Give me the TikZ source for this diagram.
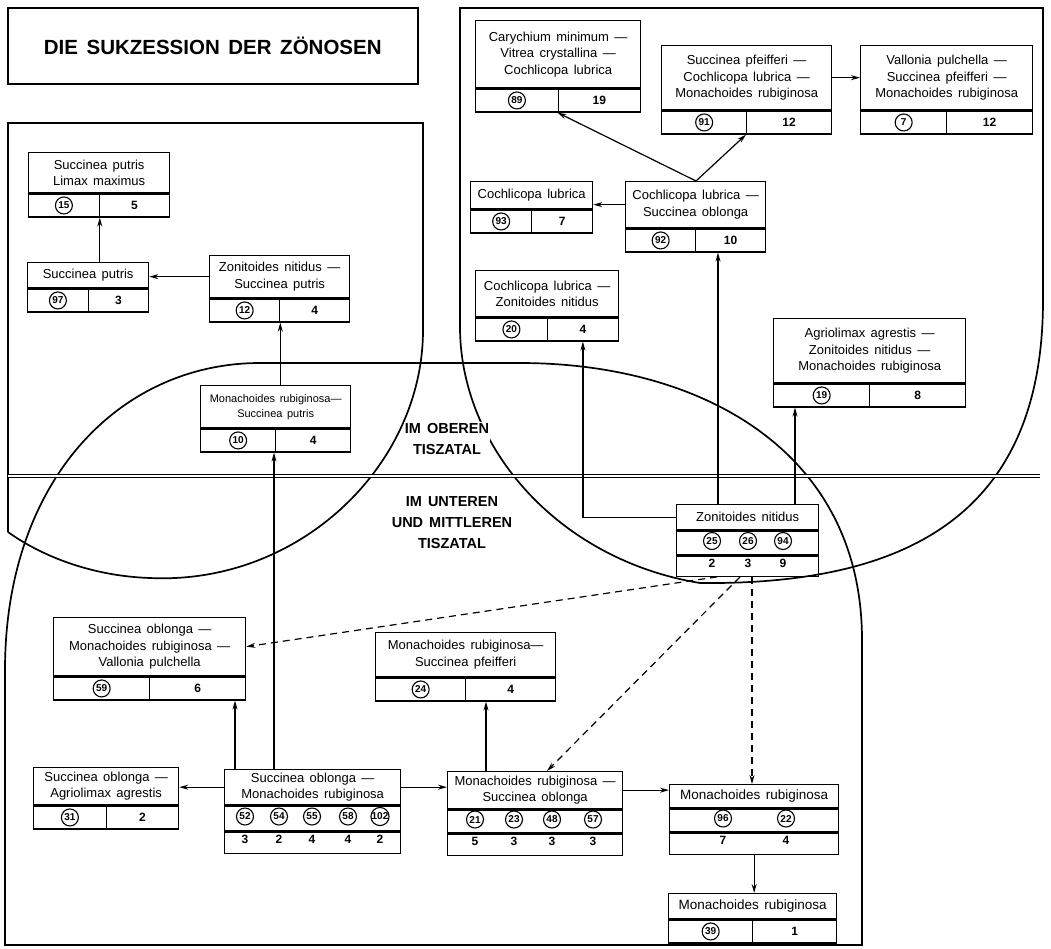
\documentclass[tikz,border=0pt]{standalone}
\usepackage{fontspec}
\setmainfont{Liberation Sans}[WordSpace=1.5]
\usetikzlibrary{arrows.meta,positioning}

% Kasten: [Optionen]{Name}{x}{y}{Breite}{Kopfhoehe}{Arten}{Nr.}{Zahl}
\newcommand{\kasten}[9][]{%
  \node[kopf,#1,minimum width=#5pt,minimum height=#6pt] (#2) at (#3,#4) {#7};
  \node[zelle,minimum width=#5pt/2] (#2-a) at (#2.south west) {};
  \node[zelle,anchor=north east,minimum width=#5pt/2] (#2-b) at (#2.south east) {#9};
  \node[kreis] (#2-k) at (#2-a) {#8};
}

\begin{document}
\begin{tikzpicture}[x=1pt, y=-1pt,
  rahmen/.style={line width=1.7pt},
  kopf/.style={draw, line width=1.3pt, anchor=north west, align=center, inner sep=1pt,
    font=\fontsize{13}{16.5}\selectfont},
  zelle/.style={draw, line width=1.3pt, anchor=north west, minimum height=23pt, inner sep=0pt,
    font=\bfseries\fontsize{12}{12}\selectfont},
  kreis/.style={circle, draw, line width=1.1pt, minimum size=17pt, inner sep=0pt,
    font=\bfseries\fontsize{10}{10}\selectfont},
  zahl/.style={inner sep=0pt, font=\bfseries\fontsize{12}{12}\selectfont},
  gebiet/.style={font=\bfseries\fontsize{14.5}{21}\selectfont, align=center, fill=white, inner sep=1pt},
  pfeil/.style={draw, line width=1.2pt, -{Stealth[length=9pt, width=5pt]}},
  strich/.style={pfeil, dash pattern=on 7pt off 5pt}
]
\useasboundingbox (0,0) rectangle (1051,948);

% Gebiete
\draw[rahmen] (8,532) -- (8,123) -- (423,123) -- (423,330)
  .. controls (423,465) and (300,585) .. (150,578)
  .. controls (90,576) and (40,555) .. (8,532);
\draw[rahmen] (460,330) -- (460,8) -- (1043,8) -- (1043,300)
  .. controls (1043,520) and (900,585) .. (700,583)
  .. controls (560,560) and (462,450) .. (460,330);
\draw[rahmen] (5,945) -- (5,670) .. controls (5,480) and (120,363) .. (260,363) -- (520,363)
  .. controls (700,363) and (862,450) .. (862,640) -- (862,945) -- cycle;
\draw[line width=1pt, double distance=2.5pt] (8,476) -- (1040,476);

\node[draw, line width=1.5pt, anchor=north west, minimum width=410pt, minimum height=76pt,
  font=\bfseries\fontsize{20.5}{24}\selectfont] (titel) at (7,7) {DIE SUKZESSION DER ZÖNOSEN};
\node[gebiet] (oben) at (447,439) {IM OBEREN\\TISZATAL};
\node[gebiet, fill=none] (unten) at (452,523) {IM UNTEREN\\UND MITTLEREN\\TISZATAL};

% Zoenosen
\kasten{lm}{28}{152}{141}{40}{Succinea putris\\Limax maximus}{15}{5}
\kasten{sp}{27}{262}{121}{25}{Succinea putris}{97}{3}
\kasten{zs}{209}{255}{140}{42}{Zonitoides nitidus —\\Succinea putris}{12}{4}
\kasten[font=\fontsize{11}{15}\selectfont]{ms}{200}{385}{150}{42}{Monachoides rubiginosa—\\Succinea putris}{10}{4}
\kasten{cv}{475}{20}{165}{67}{Carychium minimum —\\Vitrea crystallina —\\Cochlicopa lubrica}{89}{19}
\kasten{pf}{661}{45}{170}{64}{Succinea pfeifferi —\\Cochlicopa lubrica —\\Monachoides rubiginosa}{91}{12}
\kasten{vp}{860}{45}{172}{64}{Vallonia pulchella —\\Succinea pfeifferi —\\Monachoides rubiginosa}{7}{12}
\kasten{cl}{470}{181}{122}{27}{Cochlicopa lubrica}{93}{7}
\kasten{co}{625}{181}{140}{46}{Cochlicopa lubrica —\\Succinea oblonga}{92}{10}
\kasten{cz}{475}{270}{143}{46}{Cochlicopa lubrica —\\Zonitoides nitidus}{20}{4}
\kasten{az}{773}{318}{192}{64}{Agriolimax agrestis —\\Zonitoides nitidus —\\Monachoides rubiginosa}{19}{8}
\kasten{sv}{53}{617}{192}{58}{Succinea oblonga —\\Monachoides rubiginosa —\\Vallonia pulchella}{59}{6}
\kasten{mp}{375}{632}{180}{44}{Monachoides rubiginosa—\\Succinea pfeifferi}{24}{4}
\kasten{sa}{33}{767}{145}{37}{Succinea oblonga —\\Agriolimax agrestis}{31}{2}
\kasten[font=\fontsize{13.5}{15}\selectfont]{mr1}{668}{893}{168}{25}{Monachoides rubiginosa}{39}{1}

\node[kopf, minimum width=142pt, minimum height=25pt] (zn) at (676,504) {Zonitoides nitidus};
\node[zelle, minimum width=142pt, minimum height=24pt] (zn-k) at (zn.south west) {};
\node[zelle, minimum width=142pt, minimum height=20pt] (zn-z) at (zn-k.south west) {};
\foreach \x/\k/\n in {712/25/2, 748/26/3, 783/94/9} {
  \node[kreis] (zn-\k) at (\x,541) {\k};
  \node[zahl] (zn-n\k) at (\x,563) {\n};
}

\node[kopf, minimum width=176pt, minimum height=35pt] (som) at (224,769) {Succinea oblonga —\\Monachoides rubiginosa};
\node[zelle, minimum width=176pt, minimum height=25pt] (som-k) at (som.south west) {};
\node[zelle, minimum width=176pt, minimum height=21pt] (som-z) at (som-k.south west) {};
\foreach \x/\k/\n in {245/52/3, 279/54/2, 312/55/4, 348/58/4, 380/102/2} {
  \node[kreis] (som-\k) at (\x,816.5) {\k};
  \node[zahl] (som-n\k) at (\x,839.5) {\n};
}

\node[kopf, minimum width=175pt, minimum height=37pt] (mso) at (447,771) {Monachoides rubiginosa —\\Succinea oblonga};
\node[zelle, minimum width=175pt, minimum height=23pt] (mso-k) at (mso.south west) {};
\node[zelle, minimum width=175pt, minimum height=21pt] (mso-z) at (mso-k.south west) {};
\foreach \x/\k/\n in {475/21/5, 514/23/3, 552/48/3, 593/57/3} {
  \node[kreis] (mso-\k) at (\x,819.5) {\k};
  \node[zahl] (mso-n\k) at (\x,841.5) {\n};
}

\node[kopf, minimum width=169pt, minimum height=23pt, font=\fontsize{13.5}{15}\selectfont] (mr) at (669,784) {Monachoides rubiginosa};
\node[zelle, minimum width=169pt, minimum height=23pt] (mr-k) at (mr.south west) {};
\node[zelle, minimum width=169pt, minimum height=21pt] (mr-z) at (mr-k.south west) {};
\foreach \x/\k/\n in {723/96/7, 786/22/4} {
  \node[kreis] (mr-\k) at (\x,818.5) {\k};
  \node[zahl] (mr-n\k) at (\x,840.5) {\n};
}

% Sukzession
\draw[pfeil] (sp.north -| lm-a.south east) -- (lm-a.south east);
\draw[pfeil] (zs.west) -- (zs.west -| sp-b.east);
\draw[pfeil] (ms.north -| zs-a.south east) -- (zs-a.south east);
\draw[pfeil] ([xshift=50pt]som.north west) -- ([xshift=50pt]som.north west |- ms-a.south);
\draw[pfeil] (som.west) -- (som.west -| sa-b.east);
\draw[pfeil] ([xshift=11pt]som.north west) -- ([xshift=11pt]som.north west |- sv-b.south);
\draw[pfeil] (som.east) -- (som.east -| mso.west);
\draw[pfeil] ([xshift=39pt]mso.north west) -- ([xshift=39pt]mso.north west |- mp-a.south);
\draw[pfeil] (mso.east) -- (mso.east -| mr.west);
\draw[pfeil] (mr-z.south) -- (mr-z.south |- mr1.north);
\draw[strich] ([xshift=41pt]zn-z.south west) -- (sv.east);
\draw[strich] ([xshift=64pt]zn-z.south west) -- ([xshift=100pt]mso.north west);
\draw[strich] ([xshift=76pt]zn-z.south west) -- ([xshift=76pt]zn-z.south west |- mr.north);
\draw[pfeil] (zn.west) -| (cz-b.south);
\draw[pfeil] ([xshift=42pt]zn.north west) -- ([xshift=42pt]zn.north west |- co-b.south);
\draw[pfeil] ([xshift=119pt]zn.north west) -- ([xshift=119pt]zn.north west |- az-a.south);
\draw[pfeil] ([xshift=71pt]co.north west) -- (cv-b.south west);
\draw[pfeil] ([xshift=71pt]co.north west) -- (pf-b.south west);
\draw[pfeil] (co.west) -- (co.west -| cl.east);
\draw[pfeil] (pf.east) -- (vp.west);
\end{tikzpicture}
\end{document}
